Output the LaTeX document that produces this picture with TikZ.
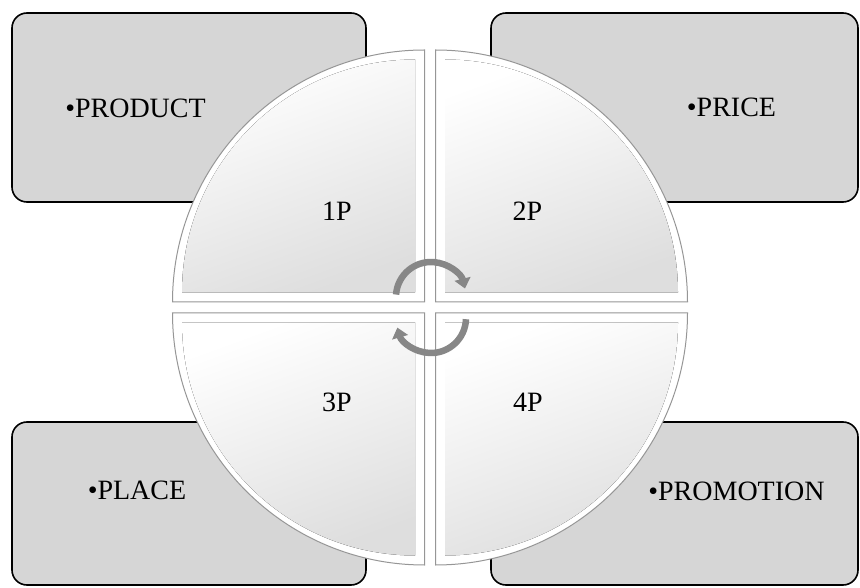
\documentclass[tikz,border=0pt]{standalone}
\usepackage{fontspec}
\setmainfont{Liberation Serif}
\usepackage{tikz}
\usetikzlibrary{arrows.meta,calc,positioning}
\definecolor{boxgray}{RGB}{214,214,214}
\definecolor{rimgray}{RGB}{150,150,150}
\definecolor{arrgray}{RGB}{135,135,135}
\tikzset{
  pbox/.style={draw=black,line width=1.6pt,rounded corners=15pt,fill=boxgray,inner sep=0pt},
  ptext/.style={anchor=base,font=\fontsize{28}{30}\selectfont,inner sep=0pt},
  quad/.style={draw=rimgray,line width=1pt,fill=white},
  qface/.style={top color=white,bottom color=black!13,shading angle=20},
  qlabel/.style={anchor=base,font=\fontsize{28}{30}\selectfont,inner sep=0pt},
  cyc/.style={line width=6.5pt,draw=arrgray,-{Triangle[width=16pt,length=10pt]}}
}

\begin{document}
\begin{tikzpicture}[x=1pt,y=1pt]
\useasboundingbox (0,0) rectangle (860,587);
% the four boxes
\node[pbox,minimum width=354pt,minimum height=189pt] (prod) at (189,479.5) {};
\node[pbox,minimum width=367pt,minimum height=189pt] (price) at (674.5,479.5) {};
\node[pbox,minimum width=354pt,minimum height=163pt] (place) at (189,83.5) {};
\node[pbox,minimum width=367pt,minimum height=163pt] (promo) at (674.5,83.5) {};
\node[ptext] (tprod) at (135.5,469) {•PRODUCT};
\node[ptext] (tprice) at (731.5,470) {•PRICE};
\node[ptext] (tplace) at (137,88) {•PLACE};
\node[ptext] (tpromo) at (736.5,87) {•PROMOTION};
% circle split in four quarters
\coordinate (c) at (430,279.5);
\foreach \sx/\sy/\a in {-1/1/90, 1/1/0, -1/-1/180, 1/-1/270}{
  \draw[quad] ($(c)+(5.5*\sx,5.5*\sy)$) -- ++(\a:252)
    arc[start angle=\a,end angle=\a+90,radius=252] -- cycle;
  \fill[qface] ($(c)+(15*\sx,15*\sy)$) -- ++(\a:233)
    arc[start angle=\a,end angle=\a+90,radius=233] -- cycle;
}
\node[qlabel] (p1) at (337,366) {1P};
\node[qlabel] (p2) at (527.5,366) {2P};
\node[qlabel] (p3) at (337,175) {3P};
\node[qlabel] (p4) at (528,175) {4P};
% cycle arrows in the middle
\coordinate (up) at (431,290);
\coordinate (dn) at (431,269);
\draw[cyc] ($(up)+(176:35)$) arc[start angle=176,end angle=14,radius=35];
\draw[cyc] ($(dn)+(-2:35)$) arc[start angle=-2,end angle=-164,radius=35];
\end{tikzpicture}
\end{document}
